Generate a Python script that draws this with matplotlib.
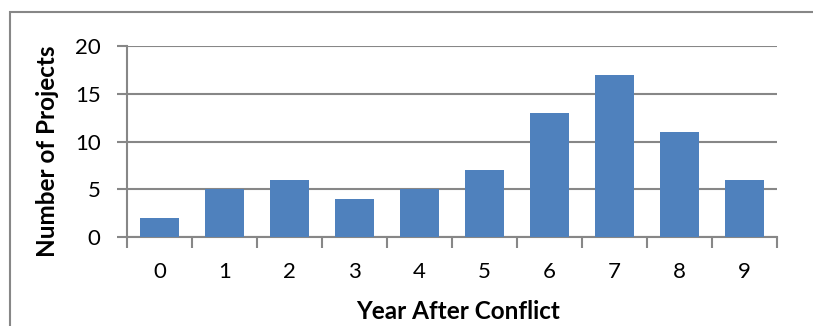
import numpy as np
import matplotlib
matplotlib.use("Agg")
import matplotlib.pyplot as plt
from matplotlib.patches import Rectangle

# data
years = [0, 1, 2, 3, 4, 5, 6, 7, 8, 9]
projects = [2, 5, 6, 4, 5, 7, 13, 17, 11, 6]
yticks = [0, 5, 10, 15, 20]

plt.rcParams['font.family'] = ['Lato', 'DejaVu Sans']
bar_color = '#4F81BD'
gray = '#878787'

fig = plt.figure(figsize=(8.13, 3.26), dpi=100)
ax = fig.add_axes([127/813, 89/326, 650/813, 191/326])

x = np.arange(len(years))
ax.bar(x, projects, width=0.59, color=bar_color, zorder=3)

ax.set_xlim(-0.5, len(years) - 0.5)
ax.set_ylim(0, 20)

# category labels at centres, tick marks at boundaries
ax.set_xticks(x)
ax.set_xticklabels([str(y) for y in years])
ax.set_xticks(np.arange(len(years) + 1) - 0.5, minor=True)
ax.tick_params(axis='x', which='major', length=0, pad=18, labelsize=16)
ax.tick_params(axis='x', which='minor', length=8, width=1.5, color=gray, direction='out')

ax.set_yticks(yticks)
ax.tick_params(axis='y', length=7, width=1.5, color=gray, pad=12, labelsize=16)
ax.yaxis.grid(True, color=gray, linewidth=1.5, zorder=0)

for side in ['top', 'right']:
    ax.spines[side].set_visible(False)
for side in ['left', 'bottom']:
    ax.spines[side].set_color(gray)
    ax.spines[side].set_linewidth(1.5)

ax.set_ylabel('Number of Projects', fontsize=17.5, fontweight='bold', va='center')
ax.yaxis.set_label_coords(-0.123, 0.45)
ax.set_xlabel('Year After Conflict', fontsize=17.5, fontweight='bold', va='center')
ax.xaxis.set_label_coords(0.51, -0.39)

# chart area border (only left and top show inside the image)
fig.patches.append(Rectangle((10/813, -0.2), 1.2, 0.2 + 314/326, transform=fig.transFigure,
                             fill=False, edgecolor=gray, linewidth=1.5))

fig.savefig('out.png', dpi=100)
